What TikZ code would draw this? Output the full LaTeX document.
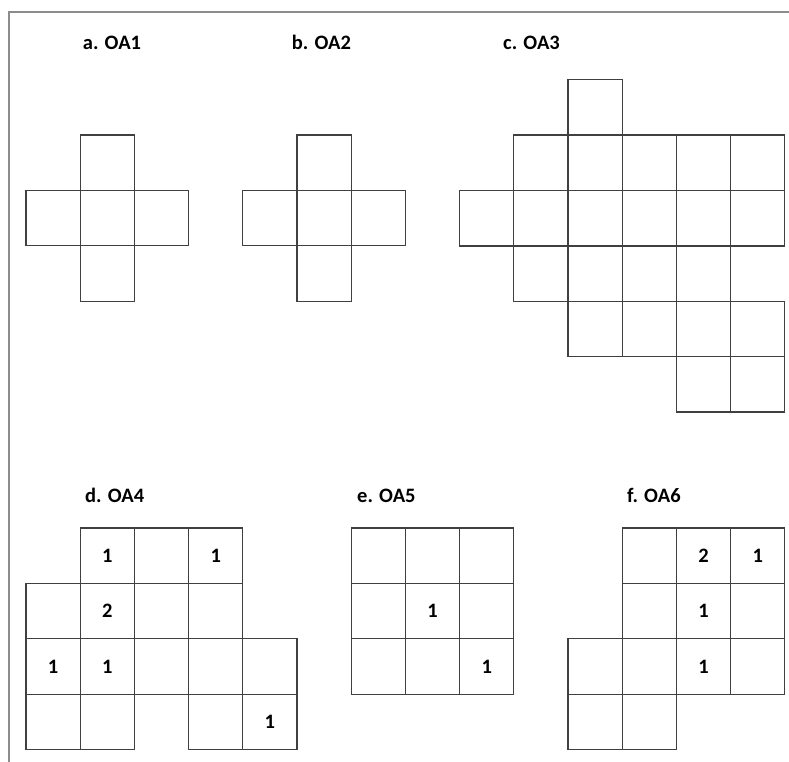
\documentclass[tikz,border=0pt]{standalone}
\usepackage{fontspec}
\setmainfont{Carlito}
\usepackage{xcolor}
\usetikzlibrary{positioning}
\definecolor{gridline}{HTML}{404040}
\definecolor{framegray}{HTML}{8C8C8C}

\begin{document}
\begin{tikzpicture}[
  x=1pt, y=-1pt,
  font=\bfseries\fontsize{20.5}{24}\selectfont,
  cell/.style={draw=gridline, line width=1.3pt, minimum width=54.2pt, minimum height=55.4pt, inner sep=0pt, outer sep=0pt},
  ttl/.style={anchor=base west, inner sep=0pt},
  panel/.style={shift={(#1)}, x=54.2pt, y=-55.4pt}
]
  \useasboundingbox (0,0) rectangle (789,762);
  \draw[draw=framegray, line width=2pt] (9,762) -- (9,12) -- (789,12);

  % titles
  \node[ttl] (ta) at (82.7,49.5) {a. OA1};
  \node[ttl] (tb) at (291.7,49.5) {b. OA2};
  \node[ttl] (tc) at (503,49.5) {c. OA3};
  \node[ttl] (td) at (85,502) {d. OA4};
  \node[ttl] (te) at (357,502) {e. OA5};
  \node[ttl] (tf) at (627,502) {f. OA6};

  % a. OA1
  \begin{scope}[panel={26,135}]
    \foreach \c/\r in {1/0,0/1,1/1,2/1,1/2}
      \node[cell] (a-\c-\r) at (\c+0.5,\r+0.5) {};
  \end{scope}

  % b. OA2
  \begin{scope}[panel={242.8,135}]
    \foreach \c/\r in {1/0,0/1,1/1,2/1,1/2}
      \node[cell] (b-\c-\r) at (\c+0.5,\r+0.5) {};
  \end{scope}

  % c. OA3
  \begin{scope}[panel={459.6,79.7}]
    \foreach \c/\r in {2/0,
        1/1,2/1,3/1,4/1,5/1,
        0/2,1/2,2/2,3/2,4/2,5/2,
        1/3,2/3,3/3,4/3,
        2/4,3/4,4/4,5/4,
        4/5,5/5}
      \node[cell] (c-\c-\r) at (\c+0.5,\r+0.5) {};
  \end{scope}

  % d. OA4
  \begin{scope}[panel={26,528}]
    \foreach \c/\r/\n in {1/0/1,2/0/{},3/0/1,
        0/1/{},1/1/2,2/1/{},3/1/{},
        0/2/1,1/2/1,2/2/{},3/2/{},4/2/{},
        0/3/{},1/3/{},3/3/{},4/3/1}
      \node[cell] (d-\c-\r) at (\c+0.5,\r+0.5) {\n};
  \end{scope}

  % e. OA5
  \begin{scope}[panel={351.2,528}]
    \foreach \c/\r/\n in {0/0/{},1/0/{},2/0/{},
        0/1/{},1/1/1,2/1/{},
        0/2/{},1/2/{},2/2/1}
      \node[cell] (e-\c-\r) at (\c+0.5,\r+0.5) {\n};
  \end{scope}

  % f. OA6
  \begin{scope}[panel={568,528}]
    \foreach \c/\r/\n in {1/0/{},2/0/2,3/0/1,
        1/1/{},2/1/1,3/1/{},
        0/2/{},1/2/{},2/2/1,3/2/{},
        0/3/{},1/3/{}}
      \node[cell] (f-\c-\r) at (\c+0.5,\r+0.5) {\n};
  \end{scope}
\end{tikzpicture}
\end{document}
